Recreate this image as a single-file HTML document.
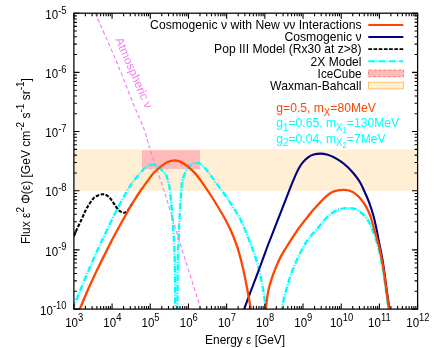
<!DOCTYPE html><html><head><meta charset="utf-8"><style>html,body{margin:0;padding:0;background:#fff}svg{display:block;will-change:transform}text{font-family:"Liberation Sans",sans-serif;font-size:12px;fill:#000}</style></head><body>
<svg width="436" height="348" viewBox="0 0 436 348">
<rect width="436" height="348" fill="#fff"/>
<defs><clipPath id="c"><rect x="73.90" y="13.20" width="343.70" height="295.90"/></clipPath></defs>
<g clip-path="url(#c)">
<rect x="73.90" y="149.37" width="343.70" height="41.37" fill="#FFEFD5"/>
<rect x="142" y="150.3" width="58" height="18.7" fill="#FFBABA"/>
<path d="M72.50,310.00 C72.75,309.25 73.35,307.17 74.00,305.50 C74.65,303.83 73.95,305.92 76.40,300.00 C78.85,294.08 84.72,279.33 88.70,270.00 C92.68,260.67 97.57,250.00 100.30,244.00 C103.03,238.00 102.35,239.67 105.10,234.00 C107.85,228.33 112.67,217.95 116.80,210.00 C120.93,202.05 126.03,192.38 129.90,186.30 C133.77,180.22 137.40,176.63 140.00,173.50 C142.60,170.37 143.50,168.98 145.50,167.50 C147.50,166.02 149.93,164.75 152.00,164.60 C154.07,164.45 156.22,165.62 157.90,166.60 C159.58,167.58 160.72,169.05 162.10,170.50 C163.48,171.95 165.17,173.35 166.20,175.30 C167.23,177.25 167.65,179.43 168.30,182.20 C168.95,184.97 169.38,185.60 170.10,191.90 C170.82,198.20 171.93,211.32 172.60,220.00 C173.27,228.68 173.73,237.00 174.10,244.00 C174.47,251.00 174.63,255.17 174.80,262.00 C174.97,268.83 175.03,276.67 175.10,285.00 C175.17,293.33 175.18,307.50 175.20,312.00" fill="none" stroke="#00FFFF" stroke-width="2.4" stroke-dasharray="6.4,1.4,1.1,1.4" stroke-linejoin="round"/>
<path d="M177.50,312.00 C177.52,307.50 177.55,293.33 177.60,285.00 C177.65,276.67 177.67,268.83 177.80,262.00 C177.93,255.17 178.13,251.00 178.40,244.00 C178.67,237.00 178.93,228.68 179.40,220.00 C179.87,211.32 180.75,198.20 181.20,191.90 C181.65,185.60 181.58,185.07 182.10,182.20 C182.62,179.33 183.32,177.10 184.30,174.70 C185.28,172.30 186.65,169.62 188.00,167.80 C189.35,165.98 190.85,164.62 192.40,163.80 C193.95,162.98 195.87,162.82 197.30,162.90 C198.73,162.98 199.43,163.12 201.00,164.30 C202.57,165.48 205.00,168.05 206.70,170.00 C208.40,171.95 209.70,173.93 211.20,176.00 C212.70,178.07 213.80,179.82 215.70,182.40 C217.60,184.98 220.30,188.28 222.60,191.50 C224.90,194.72 227.33,198.45 229.50,201.70 C231.67,204.95 233.68,207.88 235.60,211.00 C237.52,214.12 238.48,214.90 241.00,220.40 C243.52,225.90 248.05,237.07 250.70,244.00 C253.35,250.93 255.18,256.23 256.90,262.00 C258.62,267.77 259.85,273.32 261.00,278.60 C262.15,283.88 263.03,288.77 263.80,293.70 C264.57,298.63 265.22,304.98 265.60,308.20 C265.98,311.42 266.02,312.20 266.10,313.00" fill="none" stroke="#00FFFF" stroke-width="2.4" stroke-dasharray="6.4,1.4,1.1,1.4" stroke-linejoin="round"/>
<path d="M281.90,313.00 C281.93,312.20 281.70,310.87 282.10,308.20 C282.50,305.53 283.52,300.37 284.30,297.00 C285.08,293.63 285.92,291.07 286.80,288.00 C287.68,284.93 288.57,281.77 289.60,278.60 C290.63,275.43 291.73,272.22 293.00,269.00 C294.27,265.78 295.58,262.75 297.20,259.30 C298.82,255.85 300.82,251.72 302.70,248.30 C304.58,244.88 306.02,242.13 308.50,238.80 C310.98,235.47 315.00,231.35 317.60,228.30 C320.20,225.25 321.87,222.92 324.10,220.50 C326.33,218.08 328.70,215.58 331.00,213.80 C333.30,212.02 335.60,210.72 337.90,209.80 C340.20,208.88 342.95,208.57 344.80,208.30 C346.65,208.03 347.27,208.07 349.00,208.20 C350.73,208.33 353.28,208.43 355.20,209.10 C357.12,209.77 358.67,210.73 360.50,212.20 C362.33,213.67 364.67,216.03 366.20,217.90 C367.73,219.77 368.73,221.55 369.70,223.40 C370.67,225.25 370.80,225.82 372.00,229.00 C373.20,232.18 375.47,237.83 376.90,242.50 C378.33,247.17 379.57,252.42 380.60,257.00 C381.63,261.58 382.28,265.00 383.10,270.00 C383.92,275.00 384.58,280.50 385.50,287.00 C386.42,293.50 387.98,304.67 388.60,309.00 C389.22,313.33 389.10,312.33 389.20,313.00" fill="none" stroke="#00FFFF" stroke-width="2.4" stroke-dasharray="6.4,1.4,1.1,1.4" stroke-linejoin="round"/>
<path d="M95.10,13.00 C98.55,20.83 109.35,44.67 115.80,60.00 C122.25,75.33 129.03,93.33 133.80,105.00 C138.57,116.67 141.93,123.33 144.40,130.00 C146.87,136.67 147.62,141.70 148.60,145.00 C149.58,148.30 147.60,141.80 150.30,149.80 C153.00,157.80 159.80,177.30 164.80,193.00 C169.80,208.70 174.55,225.50 180.30,244.00 C186.05,262.50 195.85,293.00 199.30,304.00 C202.75,315.00 200.72,309.00 201.00,310.00" fill="none" stroke="#EE82EE" stroke-width="1.15" stroke-dasharray="4,2.5"/>
<path d="M73.90,236.30 C74.45,234.98 75.92,231.22 77.20,228.40 C78.48,225.58 80.27,222.25 81.60,219.40 C82.93,216.55 84.07,213.62 85.20,211.30 C86.33,208.98 87.27,207.35 88.40,205.50 C89.53,203.65 90.78,201.70 92.00,200.20 C93.22,198.70 94.00,197.50 95.70,196.50 C97.40,195.50 100.20,194.28 102.20,194.20 C104.20,194.12 106.02,194.85 107.70,196.00 C109.38,197.15 110.92,199.32 112.30,201.10 C113.68,202.88 114.78,205.07 116.00,206.70 C117.22,208.33 118.23,209.90 119.60,210.90 C120.97,211.90 122.82,212.80 124.20,212.70 C125.58,212.60 126.52,211.92 127.90,210.30 C129.28,208.68 131.73,204.22 132.50,203.00" fill="none" stroke="#000" stroke-width="2.1" stroke-dasharray="3.6,1.5"/>
<path d="M243.00,312.00 C243.25,311.37 243.00,312.20 244.50,308.20 C246.00,304.20 249.15,295.62 252.00,288.00 C254.85,280.38 258.87,269.83 261.60,262.50 C264.33,255.17 265.75,250.97 268.40,244.00 C271.05,237.03 274.53,228.32 277.50,220.70 C280.47,213.08 283.95,204.08 286.20,198.30 C288.45,192.52 289.63,189.42 291.00,186.00 C292.37,182.58 293.13,180.67 294.40,177.80 C295.67,174.93 297.20,171.37 298.60,168.80 C300.00,166.23 301.22,164.32 302.80,162.40 C304.38,160.48 306.30,158.60 308.10,157.30 C309.90,156.00 311.53,155.22 313.60,154.60 C315.67,153.98 318.28,153.62 320.50,153.60 C322.72,153.58 324.68,153.90 326.90,154.50 C329.12,155.10 331.50,156.05 333.80,157.20 C336.10,158.35 338.40,159.78 340.70,161.40 C343.00,163.02 345.30,164.72 347.60,166.90 C349.90,169.08 352.43,171.93 354.50,174.50 C356.57,177.07 358.33,179.47 360.00,182.30 C361.67,185.13 363.00,188.20 364.50,191.50 C366.00,194.80 367.57,198.27 369.00,202.10 C370.43,205.93 371.92,210.35 373.10,214.50 C374.28,218.65 375.12,222.42 376.10,227.00 C377.08,231.58 378.02,237.00 379.00,242.00 C379.98,247.00 381.15,252.33 382.00,257.00 C382.85,261.67 383.38,265.00 384.10,270.00 C384.82,275.00 385.42,280.50 386.30,287.00 C387.18,293.50 388.78,304.67 389.40,309.00 C390.02,313.33 389.90,312.33 390.00,313.00" fill="none" stroke="#000080" stroke-width="2.1"/>
<path d="M78.30,313.00 C78.57,312.33 78.95,311.33 79.90,309.00 C80.85,306.67 82.57,302.42 84.00,299.00 C85.43,295.58 86.95,292.00 88.50,288.50 C90.05,285.00 91.47,281.92 93.30,278.00 C95.13,274.08 96.72,270.67 99.50,265.00 C102.28,259.33 107.38,249.17 110.00,244.00 C112.62,238.83 112.33,239.30 115.20,234.00 C118.07,228.70 124.40,217.20 127.20,212.20 C130.00,207.20 129.87,207.45 132.00,204.00 C134.13,200.55 137.52,195.17 140.00,191.50 C142.48,187.83 144.60,185.12 146.90,182.00 C149.20,178.88 151.50,175.37 153.80,172.80 C156.10,170.23 158.40,168.40 160.70,166.60 C163.00,164.80 165.30,163.03 167.60,162.00 C169.90,160.97 172.20,160.38 174.50,160.40 C176.80,160.42 179.10,161.00 181.40,162.10 C183.70,163.20 185.97,165.08 188.30,167.00 C190.63,168.92 193.35,171.38 195.40,173.60 C197.45,175.82 198.00,176.65 200.60,180.30 C203.20,183.95 207.30,189.72 211.00,195.50 C214.70,201.28 219.92,210.03 222.80,215.00 C225.68,219.97 226.58,221.85 228.30,225.30 C230.02,228.75 231.62,232.13 233.10,235.70 C234.58,239.27 236.05,243.25 237.20,246.70 C238.35,250.15 239.28,253.85 240.00,256.40 C240.72,258.95 240.58,258.07 241.50,262.00 C242.42,265.93 243.97,272.30 245.50,280.00 C247.03,287.70 249.68,302.70 250.70,308.20 C251.72,313.70 251.45,312.20 251.60,313.00" fill="none" stroke="#FF4500" stroke-width="2.3"/>
<path d="M265.60,313.00 C265.65,312.20 265.62,310.87 265.90,308.20 C266.18,305.53 266.80,300.37 267.30,297.00 C267.80,293.63 268.17,291.07 268.90,288.00 C269.63,284.93 270.55,282.00 271.70,278.60 C272.85,275.20 274.28,271.27 275.80,267.60 C277.32,263.93 279.07,259.95 280.80,256.60 C282.53,253.25 284.33,250.55 286.20,247.50 C288.07,244.45 289.83,241.62 292.00,238.30 C294.17,234.98 296.93,230.75 299.20,227.60 C301.47,224.45 303.68,221.83 305.60,219.40 C307.52,216.97 309.22,214.80 310.70,213.00 C312.18,211.20 312.72,210.58 314.50,208.60 C316.28,206.62 319.45,203.15 321.40,201.10 C323.35,199.05 324.37,197.80 326.20,196.30 C328.03,194.80 330.45,193.10 332.40,192.10 C334.35,191.10 336.05,190.68 337.90,190.30 C339.75,189.92 341.65,189.77 343.50,189.80 C345.35,189.83 347.28,190.03 349.00,190.50 C350.72,190.97 351.90,191.27 353.80,192.60 C355.70,193.93 358.33,196.12 360.40,198.50 C362.47,200.88 364.55,204.00 366.20,206.90 C367.85,209.80 369.08,212.55 370.30,215.90 C371.52,219.25 372.25,222.72 373.50,227.00 C374.75,231.28 376.52,236.65 377.80,241.60 C379.08,246.55 380.23,251.97 381.20,256.70 C382.17,261.43 382.82,264.95 383.60,270.00 C384.38,275.05 385.00,280.52 385.90,287.00 C386.80,293.48 388.38,304.57 389.00,308.90 C389.62,313.23 389.50,312.32 389.60,313.00" fill="none" stroke="#FF4500" stroke-width="2.3"/>
</g>
<path d="M73.90,309.10v-5.6M73.90,13.20v5.6M85.40,309.10v-3M85.40,13.20v3M92.12,309.10v-3M92.12,13.20v3M96.89,309.10v-3M96.89,13.20v3M100.59,309.10v-3M100.59,13.20v3M103.62,309.10v-3M103.62,13.20v3M106.17,309.10v-3M106.17,13.20v3M108.39,309.10v-3M108.39,13.20v3M110.34,309.10v-3M110.34,13.20v3M112.09,309.10v-5.6M112.09,13.20v5.6M123.58,309.10v-3M123.58,13.20v3M130.31,309.10v-3M130.31,13.20v3M135.08,309.10v-3M135.08,13.20v3M138.78,309.10v-3M138.78,13.20v3M141.81,309.10v-3M141.81,13.20v3M144.36,309.10v-3M144.36,13.20v3M146.58,309.10v-3M146.58,13.20v3M148.53,309.10v-3M148.53,13.20v3M150.28,309.10v-5.6M150.28,13.20v5.6M161.77,309.10v-3M161.77,13.20v3M168.50,309.10v-3M168.50,13.20v3M173.27,309.10v-3M173.27,13.20v3M176.97,309.10v-3M176.97,13.20v3M179.99,309.10v-3M179.99,13.20v3M182.55,309.10v-3M182.55,13.20v3M184.77,309.10v-3M184.77,13.20v3M186.72,309.10v-3M186.72,13.20v3M188.47,309.10v-5.6M188.47,13.20v5.6M199.96,309.10v-3M199.96,13.20v3M206.69,309.10v-3M206.69,13.20v3M211.46,309.10v-3M211.46,13.20v3M215.16,309.10v-3M215.16,13.20v3M218.18,309.10v-3M218.18,13.20v3M220.74,309.10v-3M220.74,13.20v3M222.95,309.10v-3M222.95,13.20v3M224.91,309.10v-3M224.91,13.20v3M226.66,309.10v-5.6M226.66,13.20v5.6M238.15,309.10v-3M238.15,13.20v3M244.88,309.10v-3M244.88,13.20v3M249.65,309.10v-3M249.65,13.20v3M253.35,309.10v-3M253.35,13.20v3M256.37,309.10v-3M256.37,13.20v3M258.93,309.10v-3M258.93,13.20v3M261.14,309.10v-3M261.14,13.20v3M263.10,309.10v-3M263.10,13.20v3M264.84,309.10v-5.6M264.84,13.20v5.6M276.34,309.10v-3M276.34,13.20v3M283.07,309.10v-3M283.07,13.20v3M287.84,309.10v-3M287.84,13.20v3M291.54,309.10v-3M291.54,13.20v3M294.56,309.10v-3M294.56,13.20v3M297.12,309.10v-3M297.12,13.20v3M299.33,309.10v-3M299.33,13.20v3M301.29,309.10v-3M301.29,13.20v3M303.03,309.10v-5.6M303.03,13.20v5.6M314.53,309.10v-3M314.53,13.20v3M321.25,309.10v-3M321.25,13.20v3M326.03,309.10v-3M326.03,13.20v3M329.73,309.10v-3M329.73,13.20v3M332.75,309.10v-3M332.75,13.20v3M335.31,309.10v-3M335.31,13.20v3M337.52,309.10v-3M337.52,13.20v3M339.47,309.10v-3M339.47,13.20v3M341.22,309.10v-5.6M341.22,13.20v5.6M352.72,309.10v-3M352.72,13.20v3M359.44,309.10v-3M359.44,13.20v3M364.21,309.10v-3M364.21,13.20v3M367.92,309.10v-3M367.92,13.20v3M370.94,309.10v-3M370.94,13.20v3M373.50,309.10v-3M373.50,13.20v3M375.71,309.10v-3M375.71,13.20v3M377.66,309.10v-3M377.66,13.20v3M379.41,309.10v-5.6M379.41,13.20v5.6M390.91,309.10v-3M390.91,13.20v3M397.63,309.10v-3M397.63,13.20v3M402.40,309.10v-3M402.40,13.20v3M406.10,309.10v-3M406.10,13.20v3M409.13,309.10v-3M409.13,13.20v3M411.68,309.10v-3M411.68,13.20v3M413.90,309.10v-3M413.90,13.20v3M415.85,309.10v-3M415.85,13.20v3M417.60,309.10v-5.6M417.60,13.20v5.6M73.90,309.10h5.6M417.60,309.10h-5.6M73.90,291.29h3M417.60,291.29h-3M73.90,280.86h3M417.60,280.86h-3M73.90,273.47h3M417.60,273.47h-3M73.90,267.73h3M417.60,267.73h-3M73.90,263.05h3M417.60,263.05h-3M73.90,259.09h3M417.60,259.09h-3M73.90,255.66h3M417.60,255.66h-3M73.90,252.63h3M417.60,252.63h-3M73.90,249.92h5.6M417.60,249.92h-5.6M73.90,232.11h3M417.60,232.11h-3M73.90,221.68h3M417.60,221.68h-3M73.90,214.29h3M417.60,214.29h-3M73.90,208.55h3M417.60,208.55h-3M73.90,203.87h3M417.60,203.87h-3M73.90,199.91h3M417.60,199.91h-3M73.90,196.48h3M417.60,196.48h-3M73.90,193.45h3M417.60,193.45h-3M73.90,190.74h5.6M417.60,190.74h-5.6M73.90,172.93h3M417.60,172.93h-3M73.90,162.50h3M417.60,162.50h-3M73.90,155.11h3M417.60,155.11h-3M73.90,149.37h3M417.60,149.37h-3M73.90,144.69h3M417.60,144.69h-3M73.90,140.73h3M417.60,140.73h-3M73.90,137.30h3M417.60,137.30h-3M73.90,134.27h3M417.60,134.27h-3M73.90,131.56h5.6M417.60,131.56h-5.6M73.90,113.75h3M417.60,113.75h-3M73.90,103.32h3M417.60,103.32h-3M73.90,95.93h3M417.60,95.93h-3M73.90,90.19h3M417.60,90.19h-3M73.90,85.51h3M417.60,85.51h-3M73.90,81.55h3M417.60,81.55h-3M73.90,78.12h3M417.60,78.12h-3M73.90,75.09h3M417.60,75.09h-3M73.90,72.38h5.6M417.60,72.38h-5.6M73.90,54.57h3M417.60,54.57h-3M73.90,44.14h3M417.60,44.14h-3M73.90,36.75h3M417.60,36.75h-3M73.90,31.01h3M417.60,31.01h-3M73.90,26.33h3M417.60,26.33h-3M73.90,22.37h3M417.60,22.37h-3M73.90,18.94h3M417.60,18.94h-3M73.90,15.91h3M417.60,15.91h-3M73.90,13.20h5.6M417.60,13.20h-5.6" stroke="#000" stroke-width="1.1" fill="none"/>
<rect x="73.90" y="13.20" width="343.70" height="295.90" fill="none" stroke="#000" stroke-width="1.25"/>
<text transform="translate(65.18,326.80) scale(0.96,1.07)">10<tspan dy="-5.0" font-size="9.8px">3</tspan></text>
<text transform="translate(103.36,326.80) scale(0.96,1.07)">10<tspan dy="-5.0" font-size="9.8px">4</tspan></text>
<text transform="translate(141.55,326.80) scale(0.96,1.07)">10<tspan dy="-5.0" font-size="9.8px">5</tspan></text>
<text transform="translate(179.74,326.80) scale(0.96,1.07)">10<tspan dy="-5.0" font-size="9.8px">6</tspan></text>
<text transform="translate(217.93,326.80) scale(0.96,1.07)">10<tspan dy="-5.0" font-size="9.8px">7</tspan></text>
<text transform="translate(256.12,326.80) scale(0.96,1.07)">10<tspan dy="-5.0" font-size="9.8px">8</tspan></text>
<text transform="translate(294.31,326.80) scale(0.96,1.07)">10<tspan dy="-5.0" font-size="9.8px">9</tspan></text>
<text transform="translate(329.88,326.80) scale(0.96,1.07)">10<tspan dy="-5.0" font-size="9.8px">10</tspan></text>
<text transform="translate(368.07,326.80) scale(0.96,1.07)">10<tspan dy="-5.0" font-size="9.8px">11</tspan></text>
<text transform="translate(406.26,326.80) scale(0.96,1.07)">10<tspan dy="-5.0" font-size="9.8px">12</tspan></text>
<text transform="translate(66.50,314.80) scale(0.96,1.07)" text-anchor="end">10<tspan dy="-5.0" font-size="9.8px">-10</tspan></text>
<text transform="translate(66.50,255.62) scale(0.96,1.07)" text-anchor="end">10<tspan dy="-5.0" font-size="9.8px">-9</tspan></text>
<text transform="translate(66.50,196.44) scale(0.96,1.07)" text-anchor="end">10<tspan dy="-5.0" font-size="9.8px">-8</tspan></text>
<text transform="translate(66.50,137.26) scale(0.96,1.07)" text-anchor="end">10<tspan dy="-5.0" font-size="9.8px">-7</tspan></text>
<text transform="translate(66.50,78.08) scale(0.96,1.07)" text-anchor="end">10<tspan dy="-5.0" font-size="9.8px">-6</tspan></text>
<text transform="translate(66.50,18.90) scale(0.96,1.07)" text-anchor="end">10<tspan dy="-5.0" font-size="9.8px">-5</tspan></text>
<text transform="translate(245.10,344.00) scale(1.0,1.07)" text-anchor="middle" textLength="80" lengthAdjust="spacingAndGlyphs">Energy ε [GeV]</text>
<text transform="translate(30.00,161.00) rotate(-90) scale(1.0,1.0)" text-anchor="middle">Flux ε<tspan dy="-5.6" font-size="10px">2</tspan><tspan dy="5.6"> Φ(ε) [GeV cm</tspan><tspan dy="-5.6" font-size="10px">-2</tspan><tspan dy="5.6"> s</tspan><tspan dy="-5.6" font-size="10px">-1</tspan><tspan dy="5.6"> sr</tspan><tspan dy="-5.6" font-size="10px">-1</tspan><tspan dy="5.6">]</tspan></text>
<text transform="translate(361.50,29.20) scale(1.0,1.07)" text-anchor="end" textLength="211.4" lengthAdjust="spacingAndGlyphs">Cosmogenic ν with New νν Interactions</text>
<text transform="translate(361.50,41.30) scale(1.0,1.07)" text-anchor="end" textLength="77.0" lengthAdjust="spacingAndGlyphs">Cosmogenic ν</text>
<text transform="translate(361.50,53.40) scale(1.0,1.07)" text-anchor="end" textLength="147.4" lengthAdjust="spacingAndGlyphs">Pop III Model (Rx30 at z&gt;8)</text>
<text transform="translate(361.50,65.50) scale(1.0,1.07)" text-anchor="end" textLength="50.9" lengthAdjust="spacingAndGlyphs">2X Model</text>
<text transform="translate(361.50,77.70) scale(1.0,1.07)" text-anchor="end" textLength="43.9" lengthAdjust="spacingAndGlyphs">IceCube</text>
<text transform="translate(361.50,89.80) scale(1.0,1.07)" text-anchor="end" textLength="91.4" lengthAdjust="spacingAndGlyphs">Waxman-Bahcall</text>
<path d="M368.3,24.9H403.3" stroke="#FF4500" stroke-width="2"/>
<path d="M368.3,37.0H403.3" stroke="#000080" stroke-width="1.9"/>
<path d="M368.3,49.1H403.3" stroke="#000" stroke-width="1.9" stroke-dasharray="3.7,1.5"/>
<path d="M368.3,61.2H403.3" stroke="#00FFFF" stroke-width="2" stroke-dasharray="6.8,1.25,0.95,1.25"/>
<rect x="368.5" y="70.1" width="35.0" height="6.6" fill="#FFBABA" stroke="#FF7070" stroke-width="0.9" stroke-dasharray="3.5,1.4"/>
<rect x="368.5" y="82.2" width="35.0" height="6.6" fill="#FFEFD5" stroke="#FFC46B" stroke-width="1"/>
<text transform="translate(276.30,112.40) scale(1.012,1.07)" style="fill:#FF4500">g=0.5, m<tspan dy="3" font-size="9.6px">X</tspan><tspan dy="-3">=80MeV</tspan></text>
<text transform="translate(276.30,127.30) scale(1.012,1.07)" style="fill:#00FFFF">g<tspan dy="3" font-size="9.6px">1</tspan><tspan dy="-3">=0.65, m</tspan><tspan dy="3" font-size="9.6px">X</tspan><tspan dy="2.5" font-size="7.7px">1</tspan><tspan dy="-5.5">=130MeV</tspan></text>
<text transform="translate(276.30,142.50) scale(1.012,1.07)" style="fill:#00FFFF">g<tspan dy="3" font-size="9.6px">2</tspan><tspan dy="-3">=0.04, m</tspan><tspan dy="3" font-size="9.6px">X</tspan><tspan dy="2.5" font-size="7.7px">2</tspan><tspan dy="-5.5">=7MeV</tspan></text>
<text transform="translate(115.00,39.60) rotate(66.5) scale(1.0,1.0)" style="fill:#EE82EE">Atmospheric ν</text>
</svg></body></html>
